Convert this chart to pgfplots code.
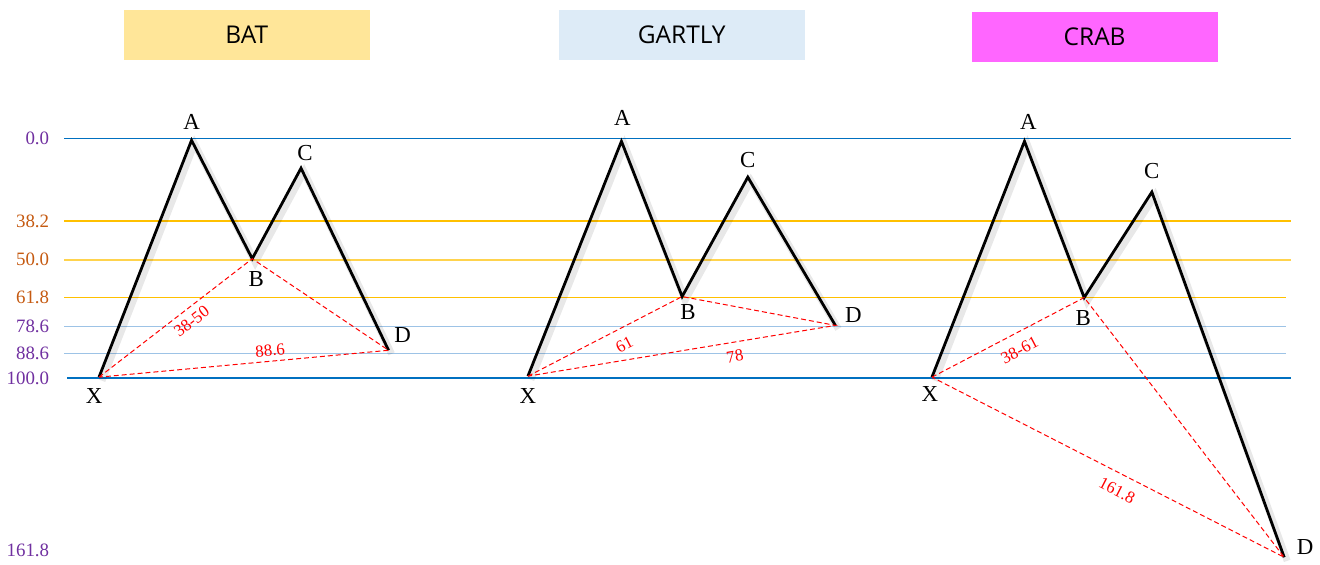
\documentclass[border=0pt]{standalone}
\usepackage{pgfplots}
\pgfplotsset{compat=1.18}
\usepackage{fontspec}
\setmainfont{Liberation Serif}
\newfontfamily\titlefont{Open Sans}

\definecolor{lvlblue}{HTML}{0070C0}
\definecolor{lvlgold}{HTML}{FFC000}
\definecolor{lvlgoldlt}{HTML}{FFD34D}
\definecolor{lvllight}{HTML}{9DC3E6}
\definecolor{tkpurple}{HTML}{7030A0}
\definecolor{tkorange}{HTML}{C55A11}
\definecolor{batbox}{HTML}{FFE699}
\definecolor{gartbox}{HTML}{DDEBF7}
\definecolor{crabbox}{HTML}{FF66FF}

\tikzset{
    pt/.style={font=\fontsize{11.5}{12}\selectfont},
    rl/.style={font=\fontsize{8.5}{9}\selectfont, text=red},
    shadow/.style={draw=black, opacity=0.09, line width=3.5pt, xshift=1.5pt, yshift=-1.8pt},
    ttl/.style={minimum width=123.5pt, minimum height=25pt, font=\titlefont\fontsize{12.3}{13}\selectfont},
}

\begin{document}
\begin{tikzpicture}
\begin{axis}[
    width=660pt, height=281pt, scale only axis,
    xmin=0, xmax=1320, ymin=0, ymax=562, y dir=reverse,
    clip=false,
    axis line style={draw=none},
    xtick=\empty,
    major tick length=0pt,
    ytick={139,222,261,299,328,355,380,553},
    yticklabels={\textcolor{tkpurple}{0.0},\textcolor{tkorange}{38.2},\textcolor{tkorange}{50.0},\textcolor{tkorange}{61.8},
                 \textcolor{tkpurple}{78.6},\textcolor{tkpurple}{88.6},\textcolor{tkpurple}{100.0},\textcolor{tkpurple}{161.8}},
    yticklabel style={anchor=east, xshift=26pt, font=\fontsize{9.5}{10}\selectfont},
]
% levels
\addplot[lvlblue, line width=0.8pt] coordinates {(60,139) (1293,139)};
\addplot[color=lvlgold, line width=0.75pt] coordinates {(60,222) (1293,222)};
\addplot[color=lvlgoldlt, line width=0.8pt] coordinates {(60,261) (1293,261)};
\addplot[color=lvlgold, line width=0.75pt] coordinates {(60,299) (1288,299)};
\addplot[lvllight, line width=0.6pt] coordinates {(60,328) (1288,328)};
\addplot[lvllight, line width=0.6pt] coordinates {(60,355) (1288,355)};
\addplot[lvlblue, line width=0.8pt] coordinates {(63,380) (1293,380)};

% BAT
\addplot[shadow] coordinates {(95,379) (188,141) (249,260) (298,169) (386,352)};
\addplot[black, line width=1.4pt] coordinates {(95,379) (188,141) (249,260) (298,169) (386,352)};
\addplot[red, line width=0.5pt, dash pattern=on 2.5pt off 1.5pt] coordinates {(95,379) (249,260) (386,352) (95,379)};
% GARTLY
\addplot[shadow] coordinates {(526,378) (620,142) (681,298) (747,178) (835,327)};
\addplot[black, line width=1.4pt] coordinates {(526,378) (620,142) (681,298) (747,178) (835,327)};
\addplot[red, line width=0.5pt, dash pattern=on 2.5pt off 1.5pt] coordinates {(526,378) (681,298) (835,327) (526,378)};
% CRAB
\addplot[shadow] coordinates {(932,379) (1025,142) (1085,299) (1153,193) (1286,560)};
\addplot[black, line width=1.4pt] coordinates {(932,379) (1025,142) (1085,299) (1153,193) (1286,560)};
\addplot[red, line width=0.5pt, dash pattern=on 2.5pt off 1.5pt] coordinates {(932,379) (1085,299) (1286,560) (932,379)};

% titles
\node[ttl, fill=batbox] at (axis cs:243.5,35) {BAT};
\node[ttl, fill=gartbox] at (axis cs:680.5,35) {GARTLY};
\node[ttl, fill=crabbox] at (axis cs:1095.5,37) {CRAB};

% point labels BAT
\node[pt] at (axis cs:188,123) {A};
\node[pt] at (axis cs:302,154) {C};
\node[pt] at (axis cs:253,280) {B};
\node[pt] at (axis cs:400,337) {D};
\node[pt] at (axis cs:90,398) {X};
% GARTLY
\node[pt] at (axis cs:621,119) {A};
\node[pt] at (axis cs:747,161) {C};
\node[pt] at (axis cs:687,314) {B};
\node[pt] at (axis cs:853,317) {D};
\node[pt] at (axis cs:526,398) {X};
% CRAB
\node[pt] at (axis cs:1029,123) {A};
\node[pt] at (axis cs:1153,172) {C};
\node[pt] at (axis cs:1084,320) {B};
\node[pt] at (axis cs:1307,550) {D};
\node[pt] at (axis cs:930,396) {X};

% ratio labels
\node[rl, rotate=37.7] at (axis cs:188,323) {38-50};
\node[rl, rotate=5.3] at (axis cs:267,352) {88.6};
\node[rl, rotate=27.3] at (axis cs:623,346) {61};
\node[rl, rotate=9.5] at (axis cs:734,358) {78};
\node[rl, rotate=27.6] at (axis cs:1020,352) {38-61};
\node[rl, rotate=-27.2] at (axis cs:1118,493) {161.8};
\end{axis}
\end{tikzpicture}
\end{document}
